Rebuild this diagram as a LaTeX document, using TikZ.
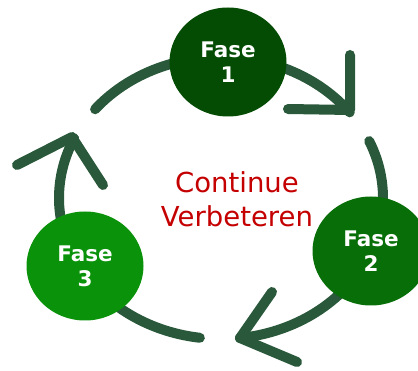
\documentclass[tikz,border=0pt]{standalone}
\usepackage{fontspec}
\setmainfont{DejaVu Sans}
\usetikzlibrary{shapes.geometric}
\definecolor{cyccol}{RGB}{41,88,58}
\definecolor{faseA}{RGB}{4,76,4}
\definecolor{faseB}{RGB}{8,110,8}
\definecolor{faseC}{RGB}{10,146,10}
\definecolor{redtxt}{RGB}{196,0,0}
\tikzset{
  cyc/.style={draw=cyccol, line width=10pt, line cap=round, line join=round},
  fase/.style={ellipse, minimum width=117pt, minimum height=109pt, inner sep=0pt,
    text=white, font=\fontsize{21.5}{25}\selectfont\bfseries, align=center},
  center text/.style={text=redtxt, font=\fontsize{27.5}{34}\selectfont, align=center, inner sep=0pt}
}
\begin{document}
\begin{tikzpicture}[x=1pt,y=1pt]
\useasboundingbox (0,0) rectangle (418,-371);
\clip (0,0) rectangle (418,-371);
\coordinate (ctr) at (221,-198);
% arrow tips and arm ends
\coordinate (t1) at (350,-110);
\coordinate (t1a) at (350,-55);
\coordinate (t1b) at (288,-109);
\coordinate (t2) at (240,-338);
\coordinate (t2a) at (272,-292);
\coordinate (t2b) at (297,-362);
\coordinate (t3) at (72,-137);
\coordinate (t3a) at (17,-165);
\coordinate (t3b) at (103,-185);
% cycle arcs
\draw[cyc] ([shift={(141:162 and 141)}]ctr) arc[start angle=141, end angle=37.4, x radius=162, y radius=141];
\draw[cyc] ([shift={(23.8:162 and 141)}]ctr) arc[start angle=23.8, end angle=-83.3, x radius=162, y radius=141];
\draw[cyc] ([shift={(-97.5:162 and 141)}]ctr) arc[start angle=-97.5, end angle=-205, x radius=162, y radius=141];
% chevron heads
\draw[cyc] (t1a) -- (t1) -- (t1b);
\draw[cyc] (t2a) -- (t2) -- (t2b);
\draw[cyc] (t3a) -- (t3) -- (t3b);
% phases
\node[fase, fill=faseA] (f1) at (228,-62) {Fase\\1};
\node[fase, fill=faseB] (f2) at (371,-251) {Fase\\2};
\node[fase, fill=faseC] (f3) at (85,-266) {Fase\\3};
\node[center text] (ct) at (237,-199.5) {Continue\\Verbeteren};
\end{tikzpicture}
\end{document}
